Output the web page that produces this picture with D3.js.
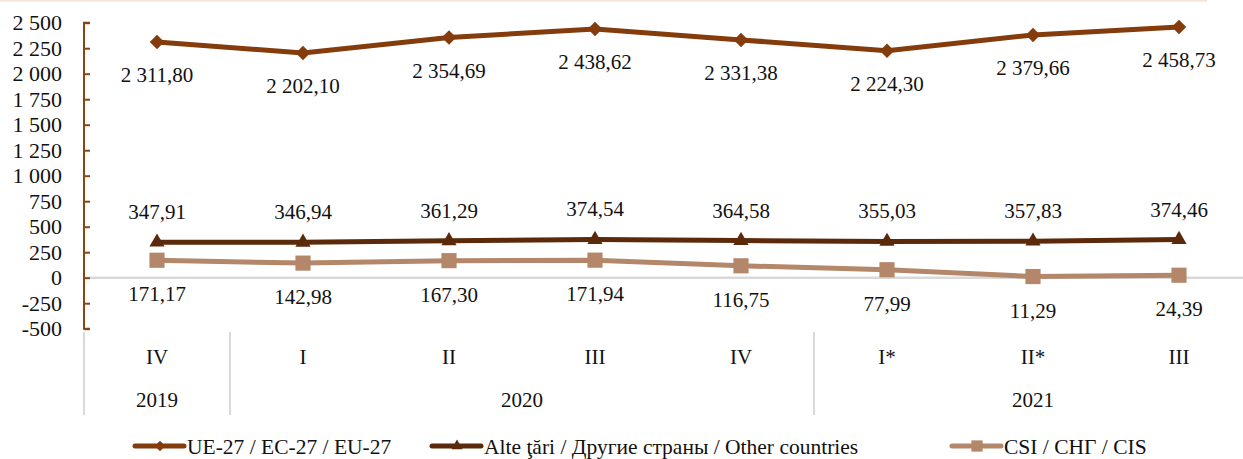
<!DOCTYPE html>
<html>
<head>
<meta charset="utf-8">
<script src="https://cdn.jsdelivr.net/npm/d3@7"></script>
<style>
  body { margin: 0; background: #fff; }
  svg text { font-family: "Liberation Serif", "DejaVu Serif", serif; fill: #111; }
</style>
</head>
<body>
<svg id="chart" width="1243" height="459"></svg>
<script>
// données
const quarters = ["IV", "I", "II", "III", "IV", "I*", "II*", "III"];
const years = [
  { label: "2019", from: 0, to: 0 },
  { label: "2020", from: 1, to: 4 },
  { label: "2021", from: 5, to: 7 }
];
const ue27 = [2311.80, 2202.10, 2354.69, 2438.62, 2331.38, 2224.30, 2379.66, 2458.73];
const alte = [347.91, 346.94, 361.29, 374.54, 364.58, 355.03, 357.83, 374.46];
const csi = [171.17, 142.98, 167.30, 171.94, 116.75, 77.99, 11.29, 24.39];
const yTicks = [-500, -250, 0, 250, 500, 750, 1000, 1250, 1500, 1750, 2000, 2250, 2500];

const series = [
  { name: "UE-27 / EC-27 / EU-27", values: ue27, color: "#843c0c", symbol: d3.symbolSquare, rot: 45, size: 105, labelDy: 40 },
  { name: "Alte ţări / Другие страны / Other countries", values: alte, color: "#5b2a0a", symbol: d3.symbolTriangle, rot: 0, size: 100, labelDy: -23 },
  { name: "CSI / СНГ / CIS", values: csi, color: "#b4876a", symbol: d3.symbolSquare, rot: 0, size: 230, labelDy: 41 }
];

const loc = d3.formatLocale({ decimal: ",", thousands: " ", grouping: [3], currency: ["", ""], minus: "-" });
const fmtTick = loc.format(",d");
const fmtVal = loc.format(",.2f");

const svg = d3.select("#chart");
const plotLeft = 84, plotRight = 1252, plotTop = 22.7, plotBottom = 328.7;

// bordure supérieure
svg.append("line").attr("x1", 0).attr("x2", 1207).attr("y1", 0.5).attr("y2", 0.5)
  .attr("stroke", "#f0e2d6").attr("stroke-width", 2);

const x = d3.scaleBand().domain(d3.range(quarters.length)).range([plotLeft, plotRight]);
const y = d3.scaleLinear().domain([-500, 2500]).range([plotBottom, plotTop]);
const cx = i => x(i) + x.bandwidth() / 2;

// ligne zéro
svg.append("line").attr("x1", plotLeft).attr("x2", 1243).attr("y1", y(0)).attr("y2", y(0))
  .attr("stroke", "#d9d9d9").attr("stroke-width", 2.5);

// axe Y
const yAxis = svg.append("g").attr("transform", `translate(${plotLeft},0)`)
  .call(d3.axisRight(y).tickValues(yTicks).tickSize(6).tickFormat(""));
yAxis.select(".domain").attr("stroke", "#8b4513").attr("stroke-width", 2)
  .attr("d", `M6,${y(2500)}H0V${y(-500)}H6`);
yAxis.selectAll(".tick line").attr("stroke", "#8b4513").attr("stroke-width", 2);
svg.append("g").selectAll("text").data(yTicks).enter().append("text")
  .attr("x", 62).attr("y", d => y(d)).attr("dy", "0.35em")
  .attr("text-anchor", "end").style("font-size", "22px")
  .text(d => fmtTick(d));

// axe X : trimestres, années, séparateurs
svg.append("g").selectAll("text").data(quarters).enter().append("text")
  .attr("x", (d, i) => cx(i)).attr("y", 357).attr("dy", "0.35em")
  .attr("text-anchor", "middle").style("font-size", "21px").text(d => d);

svg.append("g").selectAll("text").data(years).enter().append("text")
  .attr("x", d => (x(d.from) + x(d.to) + x.bandwidth()) / 2).attr("y", 400).attr("dy", "0.35em")
  .attr("text-anchor", "middle").style("font-size", "21px").text(d => d.label);

svg.append("g").selectAll("line").data(years).enter().append("line")
  .attr("x1", d => x(d.from)).attr("x2", d => x(d.from))
  .attr("y1", 332).attr("y2", 415)
  .attr("stroke", "#d9d9d9").attr("stroke-width", 2);

// séries
const line = d3.line().x((d, i) => cx(i)).y(d => y(d));
series.forEach(s => {
  const g = svg.append("g");
  g.append("path").datum(s.values).attr("d", line)
    .attr("fill", "none").attr("stroke", s.color).attr("stroke-width", 5);
  g.selectAll("path.m").data(s.values).enter().append("path").attr("class", "m")
    .attr("transform", (d, i) => `translate(${cx(i)},${y(d)}) rotate(${s.rot})`)
    .attr("d", d3.symbol().type(s.symbol).size(s.size)).attr("fill", s.color);
  g.selectAll("text").data(s.values).enter().append("text")
    .attr("x", (d, i) => cx(i)).attr("y", d => y(d) + s.labelDy)
    .attr("text-anchor", "middle").style("font-size", "21px")
    .text(d => fmtVal(d));
});

// légende
const legendPos = [133, 430, 950];
series.forEach((s, i) => {
  const g = svg.append("g").attr("transform", `translate(${legendPos[i]},446)`);
  g.append("line").attr("x1", 2).attr("x2", 51).attr("stroke", s.color)
    .attr("stroke-width", 5).attr("stroke-linecap", "round");
  g.append("path").attr("transform", `translate(27,0) rotate(${s.rot})`)
    .attr("d", d3.symbol().type(s.symbol).size(s.size * 0.55)).attr("fill", s.color);
  g.append("text").attr("x", 54).attr("dy", "0.35em").style("font-size", "21.5px").text(s.name);
});
</script>
</body>
</html>
